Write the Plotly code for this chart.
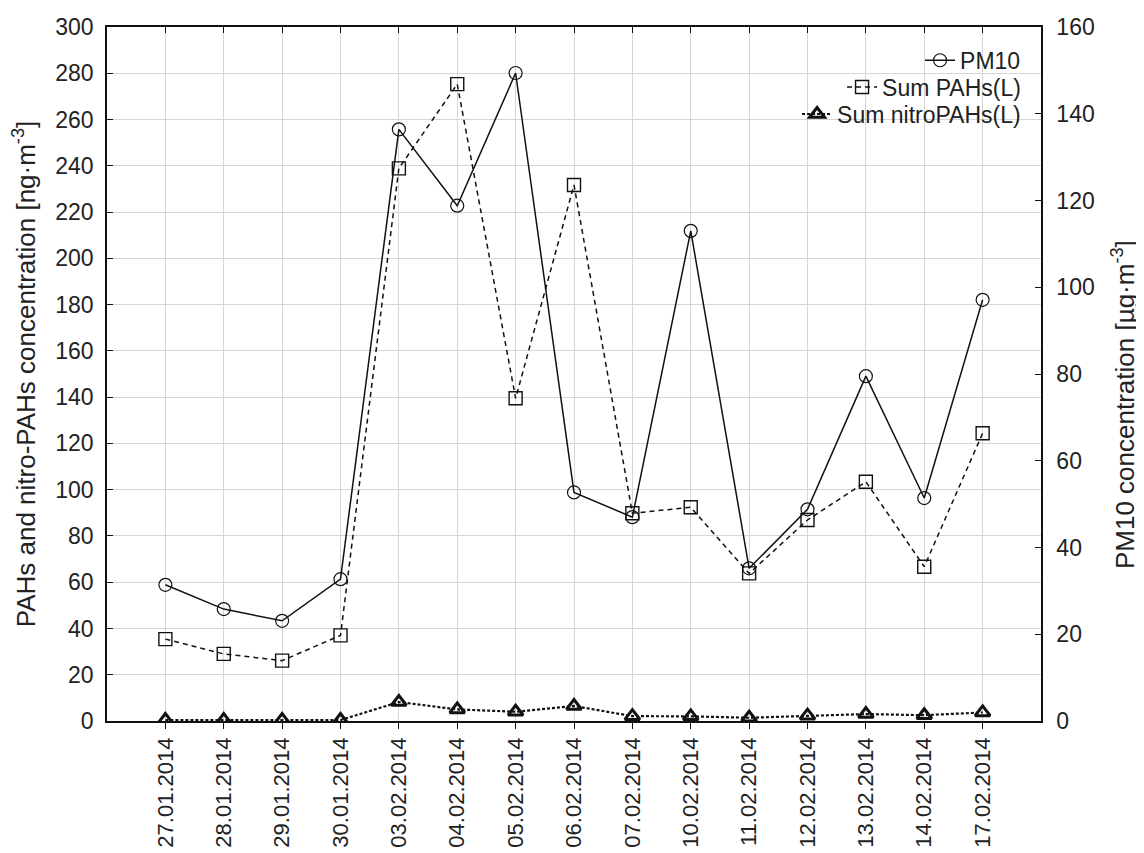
import plotly.graph_objects as go

dates = ["27.01.2014", "28.01.2014", "29.01.2014", "30.01.2014", "03.02.2014",
         "04.02.2014", "05.02.2014", "06.02.2014", "07.02.2014", "10.02.2014",
         "11.02.2014", "12.02.2014", "13.02.2014", "14.02.2014", "17.02.2014"]
pm10 = [31.4, 25.8, 23.1, 32.7, 136.4, 118.8, 149.4, 52.7, 47.0, 113.0,
        35.2, 48.8, 79.5, 51.4, 97.1]
sum_pahs = [35.4, 29.0, 26.1, 37.0, 238.9, 275.3, 139.5, 231.7, 89.8, 92.4,
            63.8, 86.9, 103.4, 66.7, 124.4]
sum_nitropahs = [0.4, 0.4, 0.4, 0.4, 8.2, 5.0, 4.0, 6.5, 2.1, 2.0,
                 1.4, 2.3, 3.0, 2.5, 3.7]

x = list(range(len(dates)))
INK = "#111111"
TXT = "#222222"
FONT = "Liberation Sans, Arial, sans-serif"
GRID = "#d6d6d6"

fig = go.Figure()
fig.add_trace(go.Scatter(
    x=x, y=pm10, name="PM10", yaxis="y2", legend="legend",
    mode="lines+markers", showlegend=True,
    line=dict(color=INK, width=1.5),
    marker=dict(symbol="circle-open", size=13, color=INK, line=dict(width=1.2)),
))
fig.add_trace(go.Scatter(
    x=x, y=sum_pahs, name="Sum PAHs(L)", legend="legend2",
    mode="lines+markers", showlegend=True,
    line=dict(color=INK, width=1.5, dash="5px,4px"),
    marker=dict(symbol="square-open", size=13, color=INK, line=dict(width=1.4)),
))
fig.add_trace(go.Scatter(
    x=x, y=sum_nitropahs, name="Sum nitroPAHs(L)", legend="legend3",
    mode="lines+markers", showlegend=True,
    line=dict(color=INK, width=2.2, dash="3px,2px"),
    marker=dict(symbol="triangle-up-open", size=13, color=INK, line=dict(width=3)),
))

leg_common = dict(xanchor="right", yanchor="middle", bgcolor="rgba(0,0,0,0)",
                  font=dict(family=FONT, size=23, color=TXT),
                  itemwidth=30, tracegroupgap=0)

# The page body adds an 8 px offset, so the figure is 8 px smaller than the window.
fig.update_layout(
    width=1136, height=845,
    margin=dict(l=99, r=103, t=19, b=132, autoexpand=False),
    paper_bgcolor="white", plot_bgcolor="white",
    showlegend=True,
    font=dict(family=FONT, size=18, color=TXT),
    xaxis=dict(
        tickmode="array", tickvals=x, ticktext=dates, tickangle=-90,
        range=[-1, 15], showgrid=True, gridcolor=GRID, gridwidth=1,
        showline=True, linecolor=INK, linewidth=1.5, mirror=True,
        ticks="outside", ticklen=6, tickcolor=INK, automargin=False,
        tickfont=dict(family=FONT, size=22, color=TXT), zeroline=False,
    ),
    xaxis2=dict(
        tickmode="array", tickvals=x, range=[-1, 15], overlaying="x",
        side="top", showticklabels=False, ticks="inside", ticklen=6,
        tickcolor=INK, showgrid=False, showline=False, zeroline=False,
        automargin=False,
    ),
    yaxis=dict(
        range=[0, 300], tickmode="linear", tick0=0, dtick=20,
        showgrid=True, gridcolor=GRID, gridwidth=1,
        showline=True, linecolor=INK, linewidth=1.5, mirror=True,
        ticks="inside", ticklen=6, tickcolor=INK, zeroline=False,
        automargin=False, ticklabelstandoff=7,
        tickfont=dict(family=FONT, size=23, color=TXT),
        title=dict(text="PAHs and nitro-PAHs concentration [ng·m<sup>-3</sup>]",
                   font=dict(family=FONT, size=26, color=TXT), standoff=18),
    ),
    yaxis2=dict(
        range=[0, 160], tickmode="linear", tick0=0, dtick=20,
        overlaying="y", side="right", showgrid=False,
        showline=True, linecolor=INK, linewidth=1.5,
        ticks="inside", ticklen=6, tickcolor=INK, zeroline=False,
        automargin=False, ticklabelstandoff=9,
        tickfont=dict(family=FONT, size=23, color=TXT),
    ),
    legend=dict(x=0.984, y=0.952, **leg_common),
    legend2=dict(x=0.984, y=0.9135, **leg_common),
    legend3=dict(x=0.984, y=0.8746, **leg_common),
    annotations=[dict(
        text="PM10 concentration [µg·m<sup>-3</sup>]",
        xref="paper", yref="paper", x=1.0878, y=0.4553,
        xanchor="center", yanchor="middle", textangle=-90, showarrow=False,
        font=dict(family=FONT, size=26, color=TXT),
    )],
)

# top-edge tick marks (axis with no data needs a hidden trace)
fig.add_trace(go.Scatter(x=[x[0]], y=[None], xaxis="x2", showlegend=False,
                         hoverinfo="skip", mode="markers"))

fig.write_html("out.html")
